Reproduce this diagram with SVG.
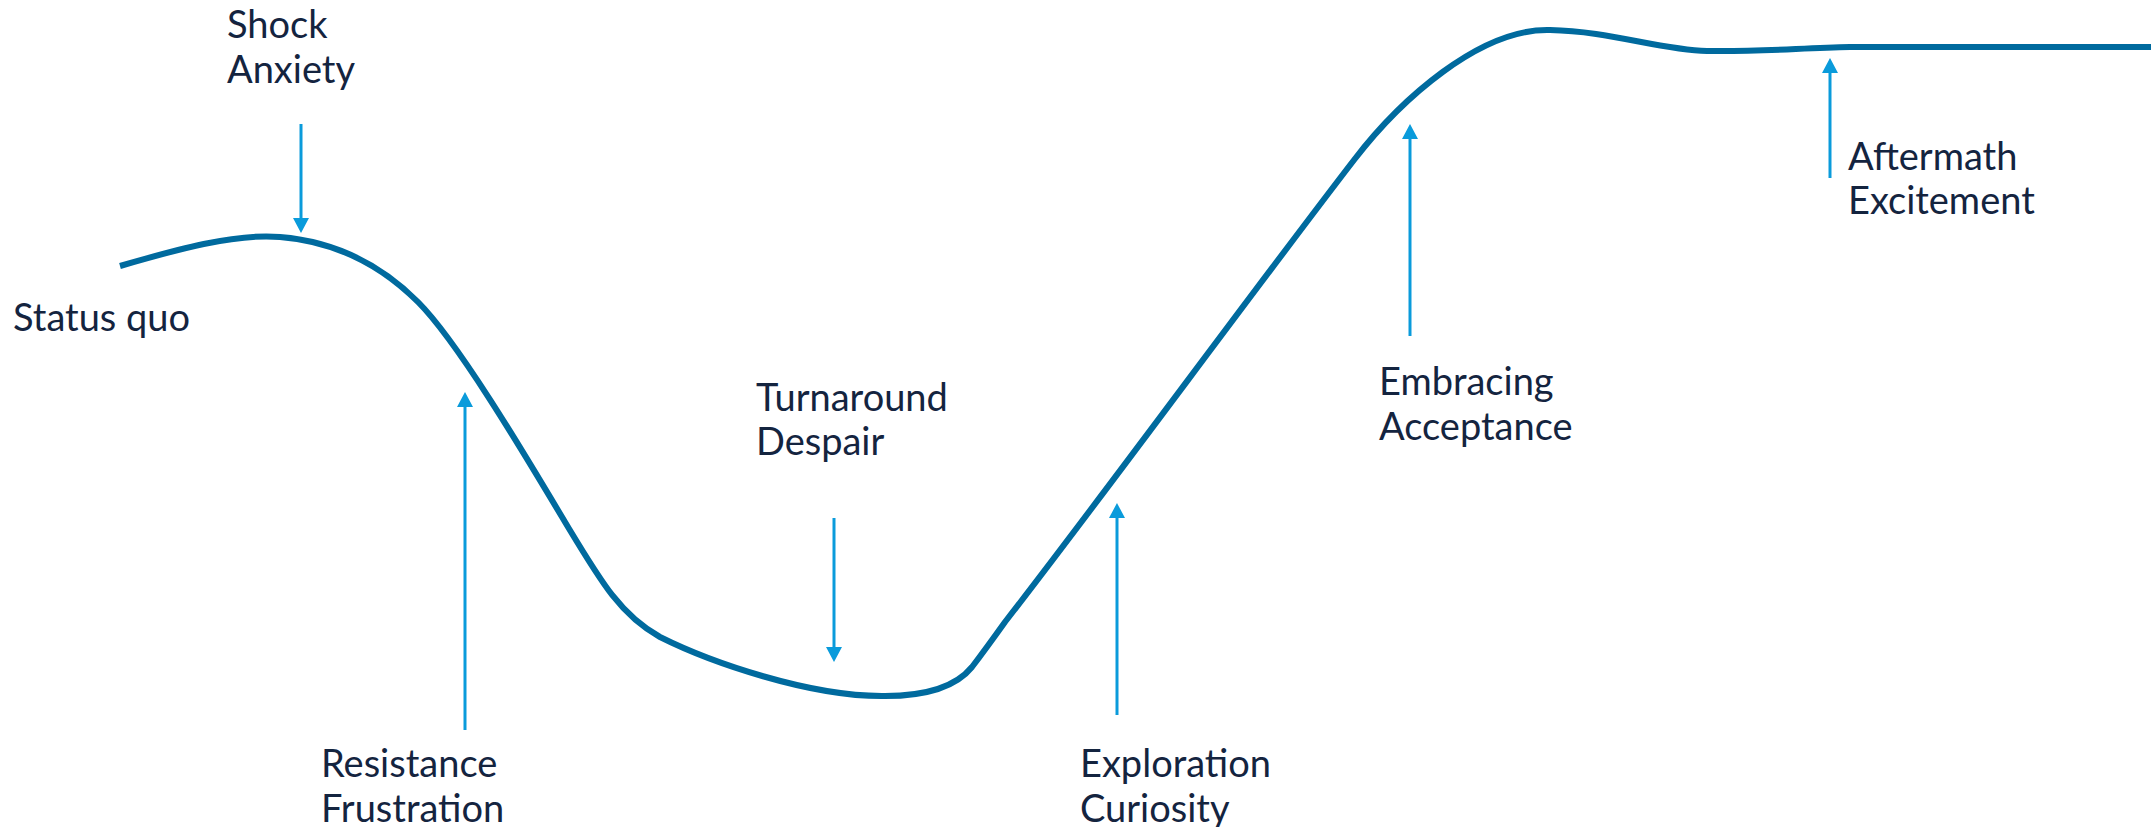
<svg xmlns="http://www.w3.org/2000/svg" width="2151" height="827" viewBox="0 0 2151 827">
<defs>
<style>
.lbl{font-family:Lato,"Open Sans","Liberation Sans",sans-serif;font-size:38px;fill:#14243f}
.curve{fill:none;stroke:#006a9e;stroke-width:6;stroke-linecap:butt;stroke-linejoin:round}
.arr{stroke:#0a9bdb;stroke-width:3;fill:none}
</style>
<marker id="ah" markerUnits="userSpaceOnUse" markerWidth="16" markerHeight="16" refX="0" refY="8" orient="auto" viewBox="0 0 16 16">
<path d="M0,0 L15,8 L0,16 z" fill="#0a9bdb"/>
</marker>
</defs>
<rect width="2151" height="827" fill="#ffffff"/>
<g id="curve">
<path class="curve" d="M120,266 C175,250 235,233 280,237 C330,241 378,262 418,302 C458,342 525,455 565,522 C600,580 620,615 660,637 C710,662 810,697 885,696 C925,696 955,688 972,667 C985,650 995,636 1005,622 C1100,500 1250,295 1354,160 C1400,100 1480,28 1550,30 C1610,31 1660,50 1707,51 C1760,52 1800,48 1850,47 L2151,47"/>
</g>
<g id="connectors">
<line class="arr" x1="301" y1="124" x2="301" y2="218" marker-end="url(#ah)"/>
<line class="arr" x1="465" y1="730" x2="465" y2="407" marker-end="url(#ah)"/>
<line class="arr" x1="834" y1="518" x2="834" y2="647" marker-end="url(#ah)"/>
<line class="arr" x1="1117" y1="715" x2="1117" y2="518" marker-end="url(#ah)"/>
<line class="arr" x1="1410" y1="336" x2="1410" y2="139" marker-end="url(#ah)"/>
<line class="arr" x1="1830" y1="178" x2="1830" y2="73" marker-end="url(#ah)"/>
</g>
<g id="node-status-quo"><text class="lbl" x="13" y="331">Status quo</text></g>
<g id="node-shock"><text class="lbl" x="227" y="38">Shock</text><text class="lbl" x="227" y="83">Anxiety</text></g>
<g id="node-resistance"><text class="lbl" x="321" y="777">Resistance</text><text class="lbl" x="321" y="822">Frustration</text></g>
<g id="node-turnaround"><text class="lbl" x="756" y="411">Turnaround</text><text class="lbl" x="756" y="455">Despair</text></g>
<g id="node-exploration"><text class="lbl" x="1080" y="777">Exploration</text><text class="lbl" x="1080" y="822">Curiosity</text></g>
<g id="node-embracing"><text class="lbl" x="1379" y="395">Embracing</text><text class="lbl" x="1379" y="440">Acceptance</text></g>
<g id="node-aftermath"><text class="lbl" x="1848" y="170">Aftermath</text><text class="lbl" x="1848" y="214">Excitement</text></g>
</svg>
